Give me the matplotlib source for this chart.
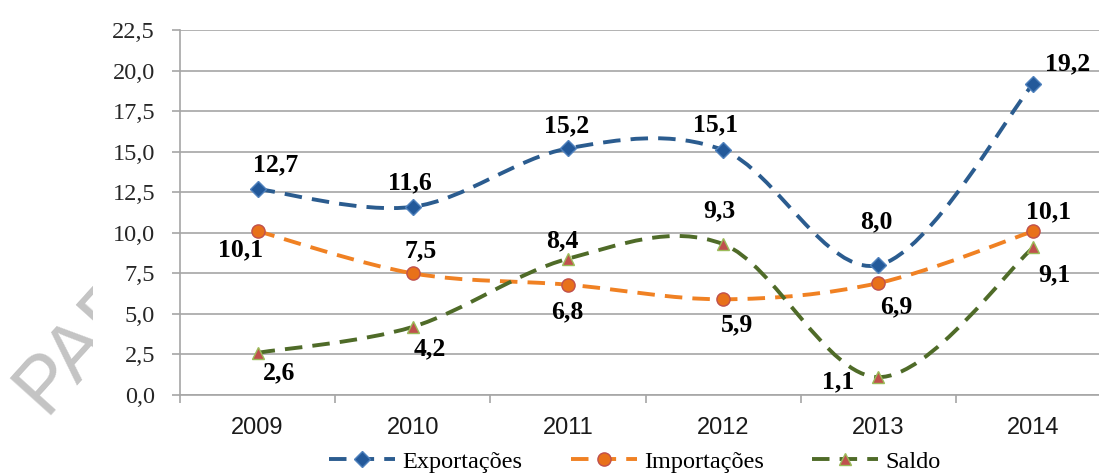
import numpy as np
import matplotlib
matplotlib.use("Agg")
import matplotlib.pyplot as plt
from matplotlib.path import Path
from matplotlib.patches import PathPatch, Rectangle
from matplotlib.lines import Line2D

# data
anos = ["2009", "2010", "2011", "2012", "2013", "2014"]
exportacoes = [12.7, 11.6, 15.2, 15.1, 8.0, 19.2]
importacoes = [10.1, 7.5, 6.8, 5.9, 6.9, 10.1]
saldo = [2.6, 4.2, 8.4, 9.3, 1.1, 9.1]
y_ticks = [0, 2.5, 5, 7.5, 10, 12.5, 15, 17.5, 20, 22.5]

# label offsets in pixels (dx, dy) per point
off_exp = [(18, 24), (-3, 24), (-1, 23), (-8, 25), (-2, 43), (34, 20)]
off_imp = [(-17, -19), (8, 23), (-1, -27), (14, -26), (18, -24), (15, 19)]
off_sal = [(21, -20), (17, -22), (-6, 18), (-4, 33), (-40, -5), (21, -27)]

serif = "Liberation Serif"
sans = "Liberation Sans"
grid_col = "#a6a6a6"


def smooth_path(xs, ys):
    # Excel-like smoothed line: Catmull-Rom converted to cubic Bezier
    pts = np.column_stack([xs, ys]).astype(float)
    n = len(pts)
    verts = [pts[0]]
    codes = [Path.MOVETO]
    for i in range(n - 1):
        p0 = pts[i - 1] if i > 0 else pts[i]
        p1 = pts[i]
        p2 = pts[i + 1]
        p3 = pts[i + 2] if i + 2 < n else pts[i + 1]
        c1 = p1 + (p2 - p0) / 6.0
        c2 = p2 - (p3 - p1) / 6.0
        verts += [c1, c2, p2]
        codes += [Path.CURVE4] * 3
    return Path(verts, codes)


fig = plt.figure(figsize=(10.99, 4.73), dpi=100)

# watermark behind the chart area, covered right of x=93px
fig.text(44 / 1099, 1 - 415 / 473, "PARA", rotation=48, rotation_mode="anchor",
         ha="left", va="baseline", fontsize=57, family=sans, color="#c4c4c4", zorder=-2)
fig.patches.append(Rectangle((93 / 1099, 0), 1, 1, transform=fig.transFigure,
                             facecolor="white", edgecolor="none", zorder=-1))

ax = fig.add_axes([180 / 1099, 78 / 473, 931 / 1099, 365 / 473])

x = np.arange(len(anos))
series = [
    ("Exportações", exportacoes, off_exp, "#2B5C8F", "D", "#23599A", "#4F81BD", 8),
    ("Importações", importacoes, off_imp, "#F08123", "o", "#E8711A", "#C0504D", 9.5),
    ("Saldo", saldo, off_sal, "#4F6B28", "^", "#C0504D", "#9BBB59", 9),
]

handles = []
for name, vals, offs, col, mk, mfc, mec, ms in series:
    patch = PathPatch(smooth_path(x, vals), fill=False, edgecolor=col,
                      lw=2.8, linestyle=(0, (4.5, 2.6)), capstyle="butt", zorder=3)
    ax.add_patch(patch)
    ax.plot(x, vals, linestyle="none", marker=mk, markersize=ms,
            markerfacecolor=mfc, markeredgecolor=mec, markeredgewidth=1, zorder=4)
    for xi, v, (dx, dy) in zip(x, vals, offs):
        ax.annotate(f"{v:.1f}".replace(".", ","), (xi, v), xytext=(dx, dy),
                    textcoords="offset pixels", ha="center", va="center",
                    fontsize=18.5, fontweight="bold", family=serif, zorder=5)
    handles.append(Line2D([], [], color=col, lw=2.8, dashes=(4.5, 2.6),
                          marker=mk, markersize=ms, markerfacecolor=mfc,
                          markeredgecolor=mec, markeredgewidth=1, label=name))

ax.set_xlim(-0.5, 5.5)
ax.set_ylim(0, 22.5)
ax.set_yticks(y_ticks)
ax.set_yticklabels([f"{v:.1f}".replace(".", ",") for v in y_ticks],
                   fontsize=17.5, family=serif, color="#262626")
ax.set_xticks(np.arange(-0.5, 6, 1))
ax.set_xticklabels([])
ax.set_xticks(x, minor=True)
ax.set_xticklabels(anos, minor=True, fontsize=17, family=sans, color="#1a1a1a")
ax.tick_params(axis="x", which="major", length=6, width=1.2, color=grid_col, direction="out")
ax.tick_params(axis="x", which="minor", length=0, pad=16)
ax.tick_params(axis="y", length=6, width=1.2, color=grid_col, pad=12)

ax.grid(axis="y", color=grid_col, lw=1.2, zorder=0)
ax.set_axisbelow(True)
for s in ["top", "right"]:
    ax.spines[s].set_visible(False)
for s in ["left", "bottom"]:
    ax.spines[s].set_color(grid_col)
    ax.spines[s].set_linewidth(1.2)

fig.legend(handles=handles, loc="center", bbox_to_anchor=(635 / 1099, 1 - 462 / 473),
           ncol=3, frameon=False, prop={"family": serif, "size": 17.5},
           handlelength=2.7, handletextpad=0.3, columnspacing=2.0, borderaxespad=0)

fig.savefig("out.png", dpi=100, facecolor="white")
